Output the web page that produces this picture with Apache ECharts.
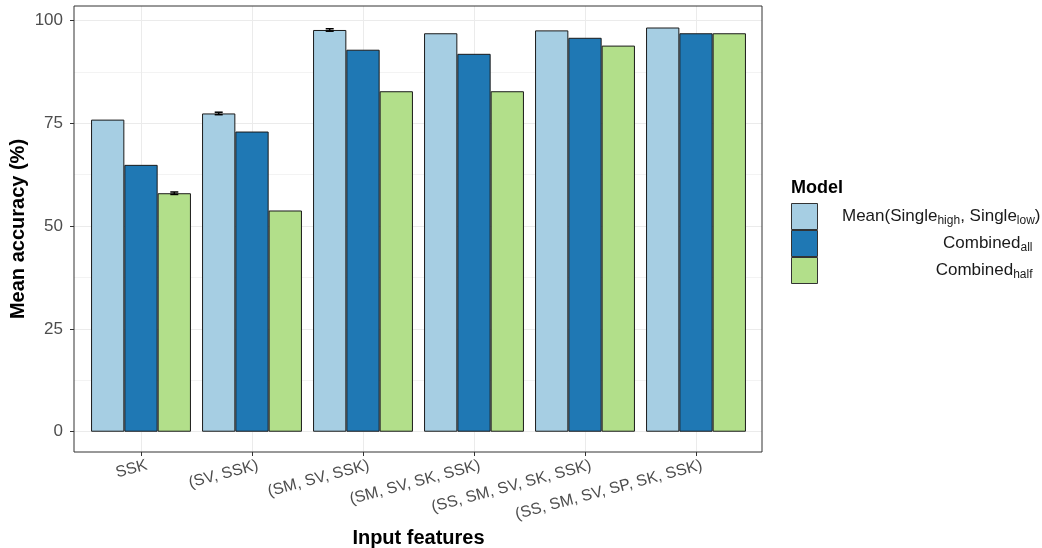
<!DOCTYPE html>
<html>
<head>
<meta charset="utf-8">
<script src="https://cdn.jsdelivr.net/npm/echarts@6/dist/echarts.min.js"></script>
<style>
html,body{margin:0;padding:0;background:#fff;}
#chart{width:1042px;height:548px;}
</style>
</head>
<body>
<div id="chart"></div>
<script>
const categories = ['SSK', '(SV, SSK)', '(SM, SV, SSK)', '(SM, SV, SK, SSK)', '(SS, SM, SV, SK, SSK)', '(SS, SM, SV, SP, SK, SSK)'];
const meanSingle = [75.9, 77.4, 97.7, 96.9, 97.6, 98.3];
const combinedAll = [64.9, 73.0, 92.9, 91.9, 95.8, 96.9];
const combinedHalf = [58.0, 53.8, 82.8, 82.8, 93.9, 96.9];
const meanSingleErr = [0, 0.3, 0.3, 0, 0, 0];
const combinedAllErr = [0, 0, 0, 0, 0, 0];
const combinedHalfErr = [0.3, 0, 0, 0, 0, 0];
const yTicks = [0, 25, 50, 75, 100];
const yMinorTicks = [12.5, 37.5, 62.5, 87.5];
const seriesNames = ['Mean(Single_high, Single_low)', 'Combined_all', 'Combined_half'];
const colors = ['#A6CEE3', '#1F78B4', '#B2DF8A'];

const Y_MIN = -4.93, Y_MAX = 103.53;
const FONT = '"Liberation Sans", Arial, sans-serif';

const chart = echarts.init(document.getElementById('chart'), null, {renderer: 'canvas'});

const values = [meanSingle, combinedAll, combinedHalf];
const errs = [meanSingleErr, combinedAllErr, combinedHalfErr];
const errData = [];
values.forEach((arr, k) => arr.forEach((v, i) => {
  if (errs[k][i] > 0) errData.push([i, v, errs[k][i], k - 1]);
}));

const legendLabel = {
  'Mean(Single_high, Single_low)': '{a|Mean(Single}{s|high}{a|, Single}{s|low}{a|)}',
  'Combined_all': '{a|Combined}{s|all}{p|}',
  'Combined_half': '{a|Combined}{s|half}{p|}'
};

const option = {
  animation: false,
  textStyle: {fontFamily: FONT},
  grid: [
    {left: 85.5, top: 6, width: 666, height: 446, outerBoundsMode: 'none', containLabel: false},
    {left: 74, top: 6, width: 688, height: 446, show: true, borderColor: '#333333', borderWidth: 1, backgroundColor: 'transparent', z: 10, outerBoundsMode: 'none', containLabel: false},
    {left: 91.5, top: 6, width: 666, height: 446, outerBoundsMode: 'none', containLabel: false}
  ],
  xAxis: [
    {
      type: 'category', gridIndex: 0, data: categories, boundaryGap: true,
      axisLine: {show: false, onZero: false},
      axisTick: {show: true, alignWithLabel: true, interval: 0, length: 4, lineStyle: {color: '#333333'}},
      axisLabel: {show: false, interval: 0},
      splitLine: {show: true, alignWithLabel: true, interval: 0, lineStyle: {color: '#EBEBEB', width: 1}},
      name: 'Input features', nameLocation: 'middle', nameGap: 76, nameMoveOverlap: false,
      nameTextStyle: {fontSize: 20, fontWeight: 'bold', color: '#000', fontFamily: FONT}
    },
    {type: 'value', gridIndex: 1, min: 0, max: 1, show: false},
    {
      type: 'category', gridIndex: 2, data: categories, boundaryGap: true,
      axisLine: {show: false, onZero: false}, axisTick: {show: false}, splitLine: {show: false},
      axisLabel: {rotate: 15, fontSize: 16, color: '#4D4D4D', margin: 13, interval: 0, fontFamily: FONT}
    }
  ],
  yAxis: [
    {type: 'value', gridIndex: 0, min: Y_MIN, max: Y_MAX, show: false},
    {
      type: 'value', gridIndex: 1, min: Y_MIN, max: Y_MAX,
      axisLine: {show: false},
      axisTick: {show: true, length: 4, customValues: yTicks, lineStyle: {color: '#333333'}},
      axisLabel: {fontSize: 17, color: '#4D4D4D', margin: 11, customValues: yTicks, fontFamily: FONT},
      splitLine: {show: true, lineStyle: {color: '#EBEBEB', width: 1}},
      name: 'Mean accuracy (%)', nameLocation: 'middle', nameGap: 46, nameMoveOverlap: false,
      nameTextStyle: {fontSize: 20, fontWeight: 'bold', color: '#000', fontFamily: FONT}
    },
    {
      type: 'value', gridIndex: 1, min: Y_MIN, max: Y_MAX,
      axisLine: {show: false}, axisLabel: {show: false},
      axisTick: {show: false, customValues: yMinorTicks},
      splitLine: {show: true, lineStyle: {color: '#F3F3F3', width: 1}}
    },
    {type: 'value', gridIndex: 2, min: Y_MIN, max: Y_MAX, show: false}
  ],
  legend: {
    orient: 'vertical', left: 786, top: 198, itemWidth: 26, itemHeight: 26, itemGap: 0,
    icon: 'rect', data: seriesNames,
    itemStyle: {borderWidth: 1, borderColor: '#333333'},
    formatter: name => legendLabel[name],
    textStyle: {
      width: 218, color: '#1a1a1a', fontFamily: FONT, lineHeight: 26,
      rich: {
        a: {fontSize: 17, lineHeight: 21, align: 'right', color: '#1a1a1a', fontFamily: FONT},
        s: {fontSize: 12, lineHeight: 13, align: 'right', color: '#1a1a1a', padding: [8, 0, 0, 0], fontFamily: FONT},
        p: {width: 8, align: 'right'}
      }
    }
  },
  graphic: [
    {type: 'text', left: 791, top: 179, style: {text: 'Model', font: 'bold 18px ' + FONT, fill: '#000'}}
  ],
  series: values.map((arr, k) => ({
    name: seriesNames[k], type: 'bar', xAxisIndex: 0, yAxisIndex: 0,
    data: arr, barWidth: '30%', barGap: '0%',
    itemStyle: {color: colors[k], borderColor: '#1a1a1a', borderWidth: 1},
    z: 3
  })).concat([{
    type: 'custom', xAxisIndex: 0, yAxisIndex: 0, z: 5,
    data: errData,
    renderItem: function (params, api) {
      const i = api.value(0), v = api.value(1), e = api.value(2), k = api.value(3);
      const bw = api.size([1, 0])[0] * 0.3;
      const c = api.coord([i, v]);
      const x = c[0] + k * bw;
      const top = api.coord([i, v + e])[1];
      const bot = api.coord([i, v - e])[1];
      const hw = bw * 0.12;
      const st = {stroke: '#000', lineWidth: 1.5};
      return {type: 'group', children: [
        {type: 'line', shape: {x1: x, y1: top, x2: x, y2: bot}, style: st},
        {type: 'line', shape: {x1: x - hw, y1: top, x2: x + hw, y2: top}, style: st},
        {type: 'line', shape: {x1: x - hw, y1: bot, x2: x + hw, y2: bot}, style: st}
      ]};
    }
  }])
};
chart.setOption(option);
</script>
</body>
</html>
